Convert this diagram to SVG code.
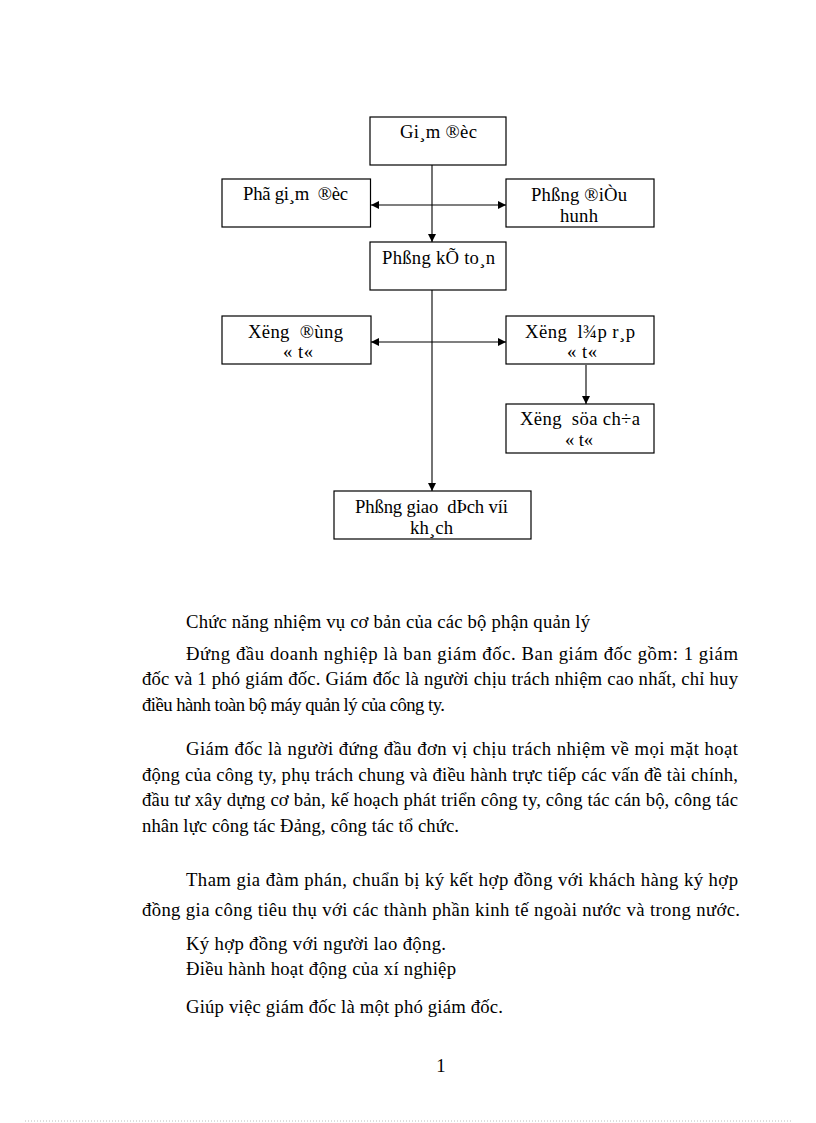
<svg xmlns="http://www.w3.org/2000/svg" width="816" height="1123" viewBox="0 0 816 1123">
<style>
.box{fill:#fff;stroke:#000;stroke-width:1.2}
.lbl{font-family:"Liberation Serif","Times New Roman",serif;font-size:18.7px;fill:#000}
.body{font-family:"Liberation Serif","Times New Roman",serif;font-size:18.7px;fill:#000}
.con{stroke:#000;stroke-width:1.1;fill:none}
</style>
<defs>
<marker id="ah" viewBox="0 0 10 10" refX="10" refY="5" markerWidth="8" markerHeight="8" markerUnits="userSpaceOnUse" orient="auto-start-reverse">
<path d="M0,0 L10,5 L0,10 Z" fill="#000"/>
</marker>
</defs>
<rect width="816" height="1123" fill="#fff"/>

<g id="connectors">
<line class="con" x1="432" y1="165" x2="432" y2="242" marker-end="url(#ah)"/>
<line class="con" x1="371" y1="205" x2="506" y2="205" marker-start="url(#ah)" marker-end="url(#ah)"/>
<line class="con" x1="432" y1="290" x2="432" y2="491" marker-end="url(#ah)"/>
<line class="con" x1="371" y1="342" x2="506" y2="342" marker-start="url(#ah)" marker-end="url(#ah)"/>
<line class="con" x1="586" y1="365" x2="586" y2="404" marker-end="url(#ah)"/>
</g>

<g id="giamdoc">
<rect class="box" x="370" y="117" width="136" height="48"/>
<text class="lbl" x="400" y="138" textLength="77" lengthAdjust="spacing">Gi¸m ®èc</text>
</g>
<g id="phogiamdoc">
<rect class="box" x="222" y="179" width="148.5" height="48"/>
<text class="lbl" x="243" y="200" textLength="105" lengthAdjust="spacing" xml:space="preserve">Phã gi¸m  ®èc</text>
</g>
<g id="phongdieuhanh">
<rect class="box" x="506" y="179" width="148" height="48"/>
<text class="lbl" x="531" y="201" textLength="96" lengthAdjust="spacing">Phßng ®iÒu</text>
<text class="lbl" x="560" y="222" textLength="38" lengthAdjust="spacing">hunh</text>
</g>
<g id="phongketoan">
<rect class="box" x="370" y="242" width="136" height="48"/>
<text class="lbl" x="382" y="264" textLength="113" lengthAdjust="spacing">Phßng kÕ to¸n</text>
</g>
<g id="xuongduc">
<rect class="box" x="222" y="316" width="149" height="48"/>
<text class="lbl" x="248" y="338" textLength="95" lengthAdjust="spacing" xml:space="preserve">Xëng  ®ùng</text>
<text class="lbl" x="283" y="358" textLength="30" lengthAdjust="spacing">« t«</text>
</g>
<g id="xuonglaprap">
<rect class="box" x="506" y="316" width="148" height="48"/>
<text class="lbl" x="525" y="338" textLength="110" lengthAdjust="spacing" xml:space="preserve">Xëng  l¾p r¸p</text>
<text class="lbl" x="567" y="358" textLength="30" lengthAdjust="spacing">« t«</text>
</g>
<g id="xuongsuachua">
<rect class="box" x="506" y="404" width="148" height="49"/>
<text class="lbl" x="520" y="425" textLength="120" lengthAdjust="spacing" xml:space="preserve">Xëng  söa ch÷a</text>
<text class="lbl" x="565" y="446" textLength="28" lengthAdjust="spacing">« t«</text>
</g>
<g id="phonggiaodich">
<rect class="box" x="334" y="491" width="197" height="48"/>
<text class="lbl" x="355" y="513" textLength="153" lengthAdjust="spacing" xml:space="preserve">Phßng giao  dÞch víi</text>
<text class="lbl" x="410" y="534" textLength="43" lengthAdjust="spacing">kh¸ch</text>
</g>

<g id="bodytext" class="body">
<text x="186" y="628" textLength="404" lengthAdjust="spacing">Chức năng nhiệm vụ cơ bản của các bộ phận quản lý</text>
<text x="186" y="660" textLength="552" lengthAdjust="spacing">Đứng đầu doanh nghiệp là ban giám đốc. Ban giám đốc gồm: 1 giám</text>
<text x="142" y="685" textLength="596" lengthAdjust="spacing">đốc và 1 phó giám đốc. Giám đốc là người chịu trách nhiệm cao nhất, chỉ huy</text>
<text x="142" y="711" textLength="303" lengthAdjust="spacing">điều hành toàn bộ máy quản lý của công ty.</text>
<text x="186" y="755" textLength="552" lengthAdjust="spacing">Giám đốc là người đứng đầu đơn vị chịu trách nhiệm về mọi mặt hoạt</text>
<text x="142" y="781" textLength="596" lengthAdjust="spacing">động của công ty, phụ trách chung và điều hành trực tiếp các vấn đề tài chính,</text>
<text x="142" y="806" textLength="596" lengthAdjust="spacing">đầu tư xây dựng cơ bản, kế hoạch phát triển công ty, công tác cán bộ, công tác</text>
<text x="142" y="832" textLength="317" lengthAdjust="spacing">nhân lực công tác Đảng, công tác tổ chức.</text>
<text x="186" y="886" textLength="552" lengthAdjust="spacing">Tham gia đàm phán, chuẩn bị ký kết hợp đồng với khách hàng ký hợp</text>
<text x="142" y="916" textLength="598" lengthAdjust="spacing">đồng gia công tiêu thụ với các thành phần kinh tế ngoài nước và trong nước.</text>
<text x="186" y="950" textLength="260" lengthAdjust="spacing">Ký hợp đồng với người lao động.</text>
<text x="186" y="975" textLength="270" lengthAdjust="spacing">Điều hành hoạt động của xí nghiệp</text>
<text x="186" y="1013" textLength="317" lengthAdjust="spacing">Giúp việc giám đốc là một phó giám đốc.</text>
<text x="441" y="1072" text-anchor="middle">1</text>
</g>
<line x1="25" y1="1121" x2="792" y2="1121" stroke="#bbb" stroke-width="1" stroke-dasharray="1 2"/>
</svg>
